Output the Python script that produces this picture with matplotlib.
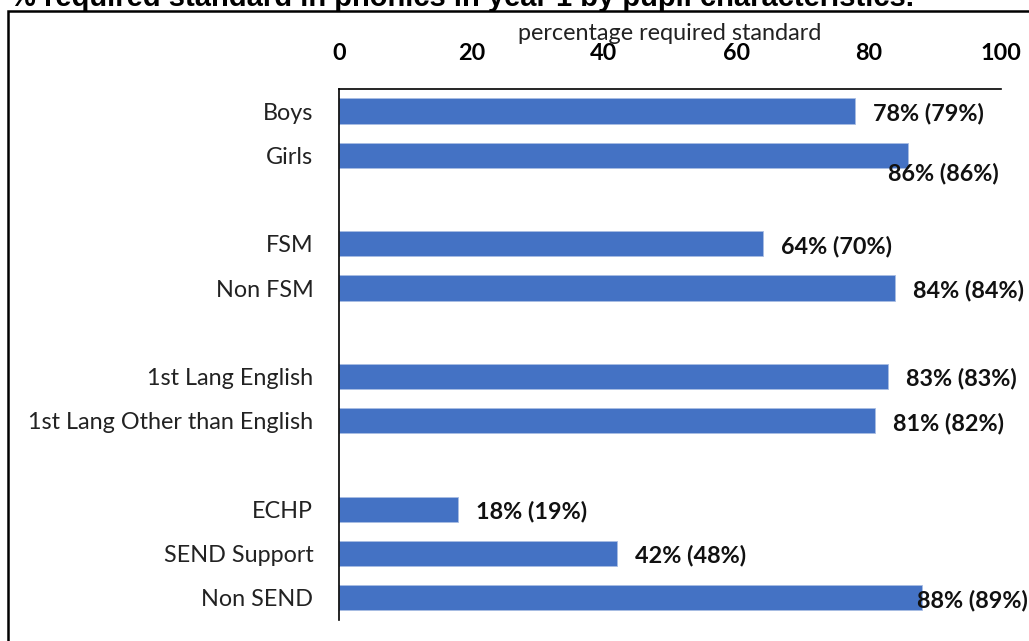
import matplotlib
matplotlib.use("Agg")
import matplotlib.pyplot as plt
from matplotlib.patches import Rectangle

# data (value in brackets is the comparison figure)
categories = ['Boys', 'Girls', 'FSM', 'Non FSM', '1st Lang English',
              '1st Lang Other than English', 'ECHP', 'SEND Support', 'Non SEND']
values = [78, 86, 64, 84, 83, 81, 18, 42, 88]
compare = [79, 86, 70, 84, 83, 82, 19, 48, 89]
# slot of each bar, empty slots separate the groups
slots = [0, 1, 3, 4, 6, 7, 9, 10, 11]

bar_color = '#4472C4'
label_font = 'Lato'

fig = plt.figure(figsize=(10.29, 6.41), dpi=100)
ax = fig.add_axes([0.3294, 0.0328, 0.6434, 0.8284])

ax.barh(slots, values, height=0.57, color=bar_color, edgecolor='#A9BDE3', linewidth=0.6)

for i in range(len(values)):
    txt = '{0}% ({1}%)'.format(values[i], compare[i])
    dx, dy = 2.7, 0.05
    if categories[i] == 'Girls':
        # excel pushed this one under the bar
        dx, dy = -3.0, 0.4
    elif categories[i] == 'Non SEND':
        dx = -0.7
    ax.text(values[i] + dx, slots[i] + dy, txt, ha='left', va='center',
            fontsize=16.8, fontweight='bold', family=label_font, color='#111111')

ax.set_xlim(0, 100)
ax.set_ylim(11.5, -0.5)
ax.xaxis.tick_top()
ax.xaxis.set_label_position('top')
ax.set_xticks([0, 20, 40, 60, 80, 100])
ax.set_xticklabels(['0', '20', '40', '60', '80', '100'], fontsize=16.8,
                   fontweight='bold', family=label_font)
ax.set_xlabel('percentage required standard', fontsize=16.8, family=label_font,
              color='#222222', labelpad=2)
ax.set_yticks(slots)
ax.set_yticklabels(categories, fontsize=16.8, family=label_font, color='#222222')
ax.tick_params(axis='x', length=0, pad=18)
ax.tick_params(axis='y', length=0, pad=18.5)
for s in ['right', 'bottom']:
    ax.spines[s].set_visible(False)
ax.spines['top'].set_linewidth(1.2)
ax.spines['left'].set_linewidth(1.2)

# outer frame of the chart, runs off the right and bottom edge
fig.patches.append(Rectangle((8 / 1029, -0.05), 1.1, 1 - 11 / 641 + 0.05,
                             transform=fig.transFigure, fill=False,
                             edgecolor='black', linewidth=1.8))

fig.text(10 / 1029, 1 - 6 / 641,
         '% required standard in phonics in year 1 by pupil characteristics.',
         fontsize=21, fontweight='bold', family='Liberation Sans', ha='left',
         va='baseline')

fig.savefig('out.png', dpi=100)
